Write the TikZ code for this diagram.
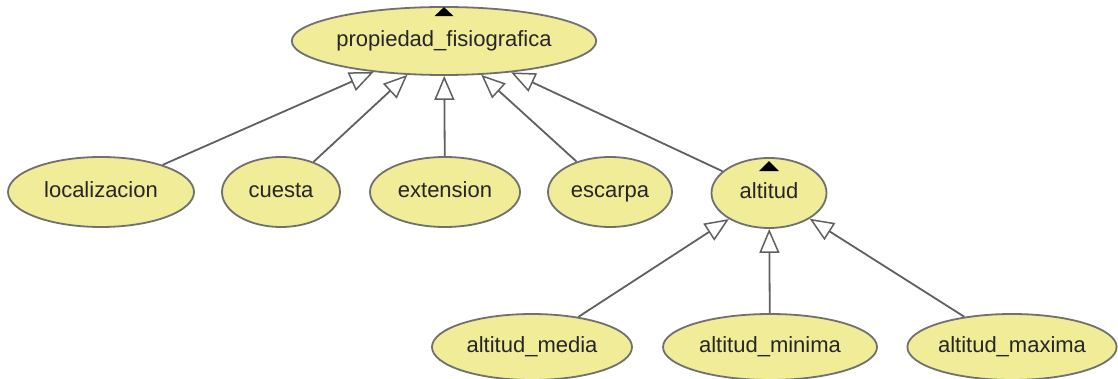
\documentclass[tikz,border=0pt]{standalone}
\usepackage{fontspec}
\setmainfont{Liberation Sans}
\usetikzlibrary{shapes.geometric,arrows.meta,calc}
\definecolor{nodefill}{RGB}{240,236,152}
\definecolor{nodeline}{RGB}{112,112,112}
\definecolor{edgeline}{RGB}{96,96,96}
\begin{document}
\begin{tikzpicture}[x=1pt,y=-1pt,
  cls/.style={ellipse,draw=nodeline,fill=nodefill,line width=1.8pt,inner sep=0pt,
    font=\fontsize{22}{26}\selectfont,text=black!85,text height=15pt,text depth=4pt},
  isa/.style={draw=edgeline,line width=1.8pt,
    -{Triangle[length=24pt,width=20pt,fill=white,line width=1.5pt]}},
  marker/.style={fill=black}]
\useasboundingbox (0,0) rectangle (1118,379);
\node[cls,minimum width=292pt,minimum height=68pt] (top) at (444,41) {propiedad\_fisiografica};
\node[cls,minimum width=186pt,minimum height=70pt] (loc) at (101,192) {localizacion};
\node[cls,minimum width=118pt,minimum height=70pt] (cue) at (281,192) {cuesta};
\node[cls,minimum width=150pt,minimum height=70pt] (ext) at (445,192) {extension};
\node[cls,minimum width=124pt,minimum height=70pt] (esc) at (610,192) {escarpa};
\node[cls,minimum width=115pt,minimum height=70pt] (alt) at (769,193) {altitud};
\node[cls,minimum width=200pt,minimum height=66pt] (med) at (532,347) {altitud\_media};
\node[cls,minimum width=214pt,minimum height=66pt] (min) at (770,347) {altitud\_minima};
\node[cls,minimum width=208pt,minimum height=66pt] (max) at (1012,347) {altitud\_maxima};
\draw[isa] (loc) -- (top);
\draw[isa] (cue) -- (top);
\draw[isa] (ext) -- (top);
\draw[isa] (esc) -- (top);
\draw[isa] (alt) -- (top);
\draw[isa] (med) -- (alt);
\draw[isa] (min) -- (alt);
\draw[isa] (max) -- (alt);
\fill[marker] ($(top.north)+(-9.5,10)$) -- ($(top.north)+(9.5,10)$) -- ($(top.north)+(0,1)$) -- cycle;
\fill[marker] ($(alt.north)+(-10,14)$) -- ($(alt.north)+(10,14)$) -- ($(alt.north)+(0,4)$) -- cycle;
\end{tikzpicture}
\end{document}
